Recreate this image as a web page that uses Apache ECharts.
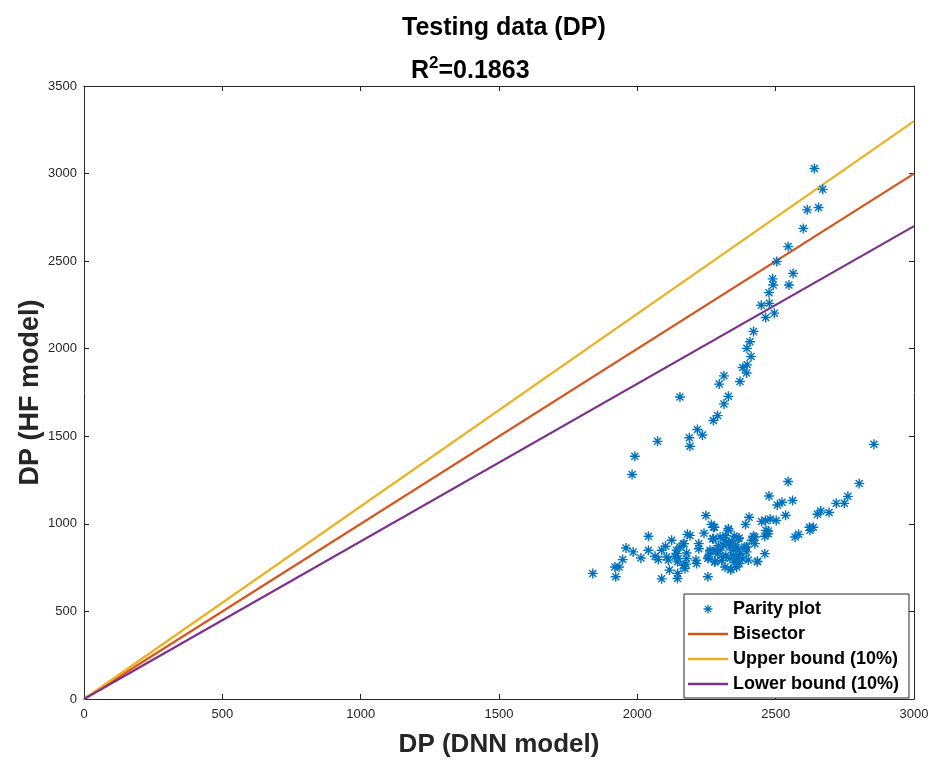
<!DOCTYPE html>
<html>
<head>
<meta charset="utf-8">
<script src="https://cdn.jsdelivr.net/npm/echarts@6/dist/echarts.min.js"></script>
<style>
html,body{margin:0;padding:0;background:#fff;}
#c{width:935px;height:763px;}
</style>
</head>
<body>
<div id="c"></div>
<script>
// Parity plot points [DNN, HF]
const upperBranch = [
[2640,3029],[2670,2910],[2614,2793],[2655,2806],[2600,2687],[2545,2583],[2504,2498],[2563,2430],[2548,2364],[2489,2399],[2491,2364],[2476,2320],[2448,2248],[2477,2259],[2464,2178],[2495,2203],[2420,2099],[2407,2040],[2396,2002],[2411,1955],[2381,1893],[2397,1908],[2395,1861],[2371,1813],[2313,1845],[2296,1798],[2329,1728],[2313,1685],[2290,1618],[2275,1590],[2217,1539],[2235,1507],[2188,1492],[2190,1443],[2154,1724],[2073,1471],[1991,1386],[1981,1282]
];
const lowerBranch = [
[2855,1454],[2802,1231],[2761,1157],[2748,1117],[2719,1117],[2693,1065],[2663,1074],[2651,1055],[2636,981],[2622,981],[2624,963],[2583,940],[2570,925],[2545,1242],[2476,1159],[2506,1108],[2523,1123],[2561,1133],[2536,1049],[2502,1019],[2480,1028],[2449,1014],[2463,1019],[2404,1038],[2391,997],[2473,959],[2465,963],[2461,929],[2473,943],[2425,925],[2419,929],[2413,906],[2425,887],[2395,868],[2461,830],[2434,787],[2401,793],[2369,773],[2367,821],[2337,739],[2368,919],[2365,915],[2329,972],[2329,963],[2319,934],[2299,925],[2317,906],[2335,868],[2275,981],[2279,981],[2268,997],[2248,1048],[2241,947],[2272,915],[2275,915],[2281,849],[2263,849],[2257,811],[2281,783],[2311,811],[2347,821],[2359,802],[2371,830],[2389,868],[2395,840],[2311,877],[2293,877],[2347,849],[2365,858],[2335,802],[2317,754],[2359,754],[2263,840],[2255,802],[2255,698],[2279,783],[2222,887],[2222,858],[2212,793],[2214,773],[2190,934],[2181,940],[2169,887],[2166,887],[2154,868],[2142,849],[2178,834],[2136,815],[2148,802],[2178,802],[2145,783],[2166,764],[2172,745],[2176,770],[2146,717],[2145,688],[2116,736],[2088,686],[2142,830],[2124,906],[2102,872],[2088,849],[2064,815],[2076,796],[2106,811],[2112,793],[2040,929],[2040,849],[2013,805],[1985,840],[1959,862],[1947,796],[1934,754],[1919,754],[1922,698],[1839,717],[2338,739],[2434,783],
[2340,900],[2355,880],[2330,890],[2350,930],[2300,850],[2320,820],[2350,780],[2380,800],[2305,790],[2290,830]
];
const bisector = [[0,0],[3000,3000]];
const upperBound = [[0,0],[3000,3300]];
const lowerBound = [[0,0],[3000,2700]];
const seriesNames = ['Parity plot','Bisector','Upper bound (10%)','Lower bound (10%)'];
const titleText = 'Testing data (DP)';
const r2Value = '0.1863';
const xName = 'DP (DNN model)';
const yName = 'DP (HF model)';

const starPath = 'path://M-1.4,-10 L1.4,-10 L1.4,10 L-1.4,10 Z M-10,-1.4 L10,-1.4 L10,1.4 L-10,1.4 Z M-8,-6 L-6,-8 L8,6 L6,8 Z M-8,6 L6,-8 L8,-6 L-6,8 Z';
const lineIcon = 'path://M0,0 L40,0 L40,2.7 L0,2.7 Z';
const axisColor = '#262626';
const FONT = '"Liberation Sans", Arial, Helvetica, sans-serif';

const chart = echarts.init(document.getElementById('c'), null, {renderer:'canvas'});
const baseX = {
  type:'value', min:0, max:3000, interval:500,
  axisLine:{show:true, onZero:false, lineStyle:{color:axisColor, width:1}},
  axisTick:{show:true, inside:true, length:5, lineStyle:{color:axisColor}},
  splitLine:{show:false}
};
const baseY = {
  type:'value', min:0, max:3500, interval:500,
  axisLine:{show:true, onZero:false, lineStyle:{color:axisColor, width:1}},
  axisTick:{show:true, inside:true, length:5, lineStyle:{color:axisColor}},
  splitLine:{show:false}
};
const fmt = v => String(v);
chart.setOption({
  backgroundColor:'#fff',
  animation:false,
  title:[
    {text:titleText, left:402, top:16, textStyle:{fontFamily:FONT, fontWeight:'bold', fontSize:25, color:'#000'}, padding:0},
    {text:'{a|R}{s|2}{a|=' + r2Value + '}', left:411, top:55, padding:0,
     textStyle:{rich:{
       a:{fontFamily:FONT, fontWeight:'bold', fontSize:25, color:'#000', verticalAlign:'bottom'},
       s:{fontFamily:FONT, fontWeight:'bold', fontSize:17, color:'#000', verticalAlign:'top', padding:[0,0,12,0]}
     }}}
  ],
  grid:{left:84, right:21, top:86, bottom:60, containLabel:false},
  legend:{
    orient:'vertical', left:684, top:594,
    backgroundColor:'#fff', borderColor:axisColor, borderWidth:1,
    padding:[6,10,5,4], itemGap:7, itemWidth:40, itemHeight:9,
    textStyle:{fontFamily:FONT, fontWeight:'bold', fontSize:18, color:'#000'},
    data:[
      {name:seriesNames[0], icon:starPath},
      {name:seriesNames[1], icon:lineIcon},
      {name:seriesNames[2], icon:lineIcon},
      {name:seriesNames[3], icon:lineIcon}
    ]
  },
  xAxis:[
    Object.assign({}, baseX, {position:'bottom', name:xName, nameLocation:'middle', nameGap:33,
      nameTextStyle:{fontFamily:FONT, fontWeight:'bold', fontSize:26, color:axisColor},
      axisLabel:{fontFamily:FONT, fontSize:13, color:axisColor, margin:9, formatter:fmt}}),
    Object.assign({}, baseX, {position:'top', axisLabel:{show:false}})
  ],
  yAxis:[
    Object.assign({}, baseY, {position:'left', name:yName, nameLocation:'middle', nameGap:40, nameMoveOverlap:false,
      nameTextStyle:{fontFamily:FONT, fontWeight:'bold', fontSize:27, color:axisColor},
      axisLabel:{fontFamily:FONT, fontSize:13, color:axisColor, margin:7, formatter:fmt}}),
    Object.assign({}, baseY, {position:'right', axisLabel:{show:false}})
  ],
  series:[
    {name:seriesNames[1], type:'line', data:bisector, showSymbol:false, symbol:'none', lineStyle:{color:'#D95319', width:2.2}, itemStyle:{color:'#D95319'}, z:2},
    {name:seriesNames[2], type:'line', data:upperBound, showSymbol:false, symbol:'none', lineStyle:{color:'#EDB120', width:2.2}, itemStyle:{color:'#EDB120'}, z:2},
    {name:seriesNames[3], type:'line', data:lowerBound, showSymbol:false, symbol:'none', lineStyle:{color:'#7E2F8E', width:2.2}, itemStyle:{color:'#7E2F8E'}, z:2},
    {name:seriesNames[0], type:'scatter', data:upperBranch.concat(lowerBranch), symbol:starPath, symbolSize:10, itemStyle:{color:'#0072BD', opacity:1}, z:3}
  ]
});
</script>
</body>
</html>
